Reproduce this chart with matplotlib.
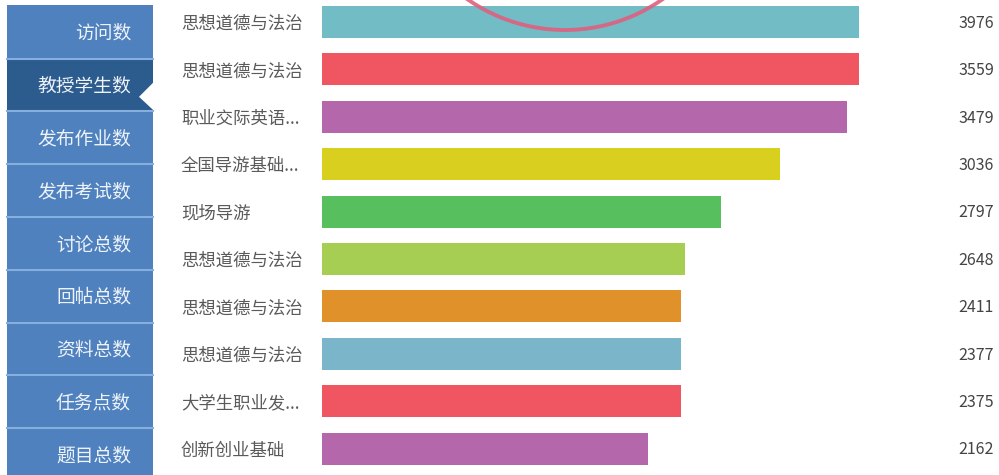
import matplotlib.pyplot as plt
from matplotlib.patches import Rectangle, Polygon, Arc

plt.rcParams['font.family'] = ['Noto Sans CJK SC', 'DejaVu Sans']

# sidebar menu
menu_items = ["访问数", "教授学生数", "发布作业数", "发布考试数", "讨论总数",
              "回帖总数", "资料总数", "任务点数", "题目总数"]
selected = 1

# bar data (top to bottom)
courses = ["思想道德与法治", "思想道德与法治", "职业交际英语...", "全国导游基础...",
           "现场导游", "思想道德与法治", "思想道德与法治", "思想道德与法治",
           "大学生职业发...", "创新创业基础"]
counts = [3976, 3559, 3479, 3036, 2797, 2648, 2411, 2377, 2375, 2162]
bar_pct = [100, 100, 97.8, 85.3, 74.3, 67.6, 66.9, 66.9, 66.9, 60.7]
colors = ["#72bcc6", "#f05661", "#b468ab", "#d8cf1f", "#58bf5e",
          "#a6ce52", "#e0912a", "#7ab5ca", "#f05661", "#b468ab"]

W, H = 999, 475
fig = plt.figure(figsize=(W / 100, H / 100), dpi=100)
fig.patch.set_facecolor("white")

# bar chart axes
pitch = 47.4
first_center = 22
ax = fig.add_axes([322 / W, 0, (859 - 322) / W, 1])
ax.set_xlim(0, 100)
ax.set_ylim((H - first_center) / pitch, -first_center / pitch)
ypos = list(range(len(courses)))
ax.barh(ypos, bar_pct, height=32 / pitch, color=colors)
ax.set_yticks([])
ax.set_xticks([])
for s in ax.spines.values():
    s.set_visible(False)
ax.patch.set_alpha(0)
for y, name, c in zip(ypos, courses, counts):
    ax.annotate(name, xy=(181 / W, y), xycoords=("figure fraction", "data"),
                xytext=(0, -1.5), textcoords="offset points",
                ha="left", va="center", fontsize=12.5, color="#5a5a5a")
    ax.annotate(str(c), xy=(994 / W, y), xycoords=("figure fraction", "data"),
                xytext=(0, -1), textcoords="offset points",
                ha="right", va="center", fontsize=11.5, color="#444444")

# overlay in pixel coordinates for sidebar and decoration
ov = fig.add_axes([0, 0, 1, 1], zorder=5)
ov.set_xlim(0, W)
ov.set_ylim(H, 0)
ov.axis("off")
ov.patch.set_alpha(0)

item_h = 52.8
top = 5
left, right = 7, 153
for i, name in enumerate(menu_items):
    y0 = top + i * item_h
    h = item_h if i < len(menu_items) - 1 else H - y0
    fc = "#2c5b8e" if i == selected else "#4f81bf"
    ov.add_patch(Rectangle((left, y0), right - left, h, facecolor=fc, edgecolor="none"))
    if i > 0:
        ov.plot([left, right], [y0 + 0.8, y0 + 0.8], color="#86aede", lw=1.5)
    ov.text(131, y0 + item_h / 2 + 2, name, ha="right", va="center",
            fontsize=13.5, color="#eef3fa")
    if i == selected:
        ov.add_patch(Polygon([(right + 1, y0 + 24), (139, y0 + 39), (right + 1, y0 + 53)],
                             closed=True, facecolor="white", edgecolor="none"))

# pink circle fragment at top
ov.add_patch(Arc((565, -140), 340, 340, theta1=0, theta2=360,
                 edgecolor="#e0607f", lw=2.8, alpha=0.9))

fig.savefig("out.png", dpi=100)
